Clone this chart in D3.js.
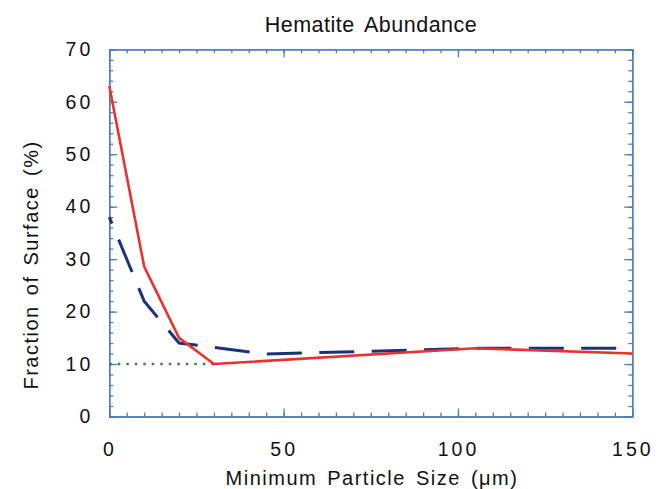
<!DOCTYPE html>
<html lang="en">
<head>
    <meta charset="UTF-8">
    <title>Hematite Abundance</title>
    <script src="https://cdnjs.cloudflare.com/ajax/libs/d3/7.8.5/d3.min.js"></script>
    <style>
        body {
            margin: 0;
            background: #fff;
            font-family: "Liberation Sans", Arial, sans-serif;
        }
        .axis path, .axis line {
            stroke: #4d7cc0;
            stroke-width: 1.3;
        }
        .axis text {
            font-family: "Liberation Sans", Arial, sans-serif;
            font-size: 19.5px;
            fill: #111;
            letter-spacing: 3px;
        }
        .label {
            font-size: 20px;
            fill: #111;
            letter-spacing: 1.5px;
            word-spacing: 3px;
        }
        .title {
            font-size: 21.5px;
            fill: #111;
            letter-spacing: 0.5px;
            word-spacing: 4px;
        }
    </style>
</head>
<body>
    <div id="chart"></div>

    <script>
        // Data
        const sizes = [0, 10, 20, 30, 105, 150];
        const modelA = [63, 28.6, 15, 10, 13, 12];          // red solid
        const sizesB = [0, 10, 20, 30, 45, 105, 150];
        const modelB = [38, 22, 14, 13.2, 11.9, 13, 13];    // blue dashed
        const floorX = [0, 30];
        const floorY = [10, 10];                            // green dotted
        const xTicks = [0, 50, 100, 150];
        const yTicks = [0, 10, 20, 30, 40, 50, 60, 70];

        const W = 670, H = 489;
        const margin = {top: 49.3, right: 37.7, bottom: 72.5, left: 109.3};
        const width = W - margin.left - margin.right;
        const height = H - margin.top - margin.bottom;

        const svg = d3.select("#chart")
            .append("svg")
            .attr("width", W)
            .attr("height", H)
            .append("g")
            .attr("transform", `translate(${margin.left},${margin.top})`);

        const x = d3.scaleLinear().domain([0, 150]).range([0, width]);
        const y = d3.scaleLinear().domain([0, 70]).range([height, 0]);

        // Minor ticks (inward, on all four sides)
        const xMinor = d3.range(0, 151, 5);
        const yMinor = d3.range(0, 71, 2);

        svg.append("g").attr("class", "axis")
            .attr("transform", `translate(0,${height})`)
            .call(d3.axisBottom(x).tickValues(xMinor).tickSize(-4).tickFormat(""));
        svg.append("g").attr("class", "axis")
            .call(d3.axisTop(x).tickValues(xMinor).tickSize(-4).tickFormat(""));
        svg.append("g").attr("class", "axis")
            .call(d3.axisLeft(y).tickValues(yMinor).tickSize(-4).tickFormat(""));
        svg.append("g").attr("class", "axis")
            .attr("transform", `translate(${width},0)`)
            .call(d3.axisRight(y).tickValues(yMinor).tickSize(-4).tickFormat(""));

        // Major ticks with labels
        svg.append("g").attr("class", "axis")
            .attr("transform", `translate(0,${height})`)
            .call(d3.axisBottom(x).tickValues(xTicks).tickSize(-8).tickPadding(26)
                .tickSizeOuter(0));
        svg.append("g").attr("class", "axis")
            .call(d3.axisTop(x).tickValues(xTicks).tickSize(-8).tickFormat("").tickSizeOuter(0));
        svg.append("g").attr("class", "axis")
            .call(d3.axisLeft(y).tickValues(yTicks).tickSize(-8).tickPadding(16)
                .tickSizeOuter(0));
        svg.append("g").attr("class", "axis")
            .attr("transform", `translate(${width},0)`)
            .call(d3.axisRight(y).tickValues(yTicks).tickSize(-8).tickFormat("").tickSizeOuter(0));

        // Lines
        const line = d3.line()
            .x(d => x(d[0]))
            .y(d => y(d[1]));

        svg.append("path")
            .datum(d3.zip(floorX, floorY))
            .attr("fill", "none")
            .attr("stroke", "#2e8b3e")
            .attr("stroke-width", 2.5)
            .attr("stroke-dasharray", "2.5,6")
            .attr("d", line);

        svg.append("path")
            .datum(d3.zip(sizesB, modelB))
            .attr("fill", "none")
            .attr("stroke", "#1b3180")
            .attr("stroke-width", 3)
            .attr("stroke-dasharray", "35,17.4")
            .attr("stroke-dashoffset", 28)
            .attr("d", line);

        svg.append("path")
            .datum(d3.zip(sizes, modelA))
            .attr("fill", "none")
            .attr("stroke", "#e8322c")
            .attr("stroke-width", 2.6)
            .attr("d", line);

        // Title and axis labels
        svg.append("text")
            .attr("class", "title")
            .attr("x", 371 - margin.left)
            .attr("y", 32 - margin.top)
            .attr("text-anchor", "middle")
            .text("Hematite Abundance");

        svg.append("text")
            .attr("class", "label")
            .attr("x", 372 - margin.left)
            .attr("y", 485 - margin.top)
            .attr("text-anchor", "middle")
            .text("Minimum Particle Size (\u03bcm)");

        svg.append("text")
            .attr("class", "label")
            .attr("transform", "rotate(-90)")
            .attr("x", -(265 - margin.top))
            .attr("y", 38 - margin.left)
            .attr("text-anchor", "middle")
            .text("Fraction of Surface (%)");
    </script>
</body>
</html>
